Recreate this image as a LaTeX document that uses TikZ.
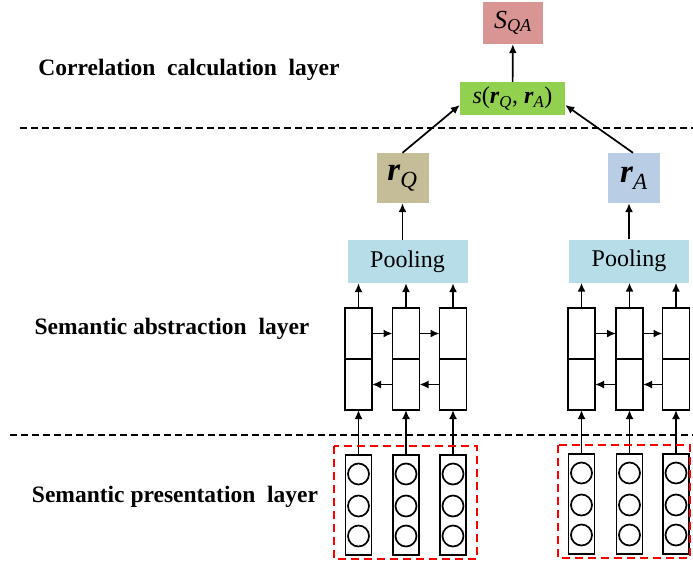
\documentclass[tikz,border=0pt]{standalone}
\usepackage{fontspec}
\setmainfont{Liberation Serif}
\usepackage{xcolor}
\usetikzlibrary{arrows.meta, positioning, calc}
\definecolor{scorered}{HTML}{D99594}
\definecolor{simgreen}{HTML}{92D050}
\definecolor{qtan}{HTML}{C4BD97}
\definecolor{ablue}{HTML}{B9CDE5}
\definecolor{poolblue}{HTML}{B7DEE8}
\tikzstyle{layername} = [font=\fontsize{23.5}{27}\selectfont\bfseries, text centered]
\tikzstyle{scorebox} = [rectangle, minimum width=60pt, minimum height=42pt, text centered, fill=scorered, font=\fontsize{26}{30}\selectfont]
\tikzstyle{simbox} = [rectangle, minimum width=105pt, minimum height=33pt, inner sep=1pt, text centered, fill=simgreen, font=\fontsize{24}{28}\selectfont]
\tikzstyle{repbox} = [rectangle, minimum width=52pt, minimum height=50pt, text centered, font=\fontsize{33}{36}\selectfont]
\tikzstyle{poolbox} = [rectangle, minimum width=120pt, minimum height=43pt, text centered, fill=poolblue, font=\fontsize{24}{28}\selectfont]
\tikzstyle{lstmcell} = [rectangle, draw=black, line width=1.7pt, outer sep=0pt, minimum width=27pt, minimum height=51pt]
\tikzstyle{embbox} = [rectangle, draw=black, line width=1.7pt, minimum width=26pt, minimum height=100pt]
\tikzstyle{wordunit} = [circle, draw=black, line width=1.7pt, minimum size=21pt, inner sep=0pt]
\tikzstyle{arrow} = [line width=1.7pt,->,>={Latex[length=9pt,width=8pt]}]
\tikzstyle{layerline} = [line width=1.7pt, dash pattern=on 7pt off 4pt]
\tikzstyle{wordgroup} = [draw=red, line width=1.7pt, dash pattern=on 8pt off 5pt]

\begin{document}
\begin{tikzpicture}[x=1pt, y=-1pt]
\useasboundingbox (0,0) rectangle (693,565);

% layer names and borders
\node (corr) [layername] at (189,70) {Correlation\ \ calculation\ \ layer};
\node (abst) [layername] at (172,329) {Semantic abstraction\ \ layer};
\node (pres) [layername] at (175,497) {Semantic presentation\ \ layer};
\draw [layerline] (20,128) -- (693,128);
\draw [layerline] (10,435) -- (693,435);

% correlation part
\node (sqa) [scorebox] at (513,23) {\textit{S}\textsubscript{\textit{QA}}};
\node (sim) [simbox] at (512.5,98.5) {\textit{s}(\textbf{\textit{r}}\textsubscript{\textit{Q}}, \textbf{\textit{r}}\textsubscript{\textit{A}})};
\node (rq) [repbox, fill=qtan] at (402.5,178) {\textbf{\textit{r}}\textsubscript{\textit{Q}}};
\node (ra) [repbox, fill=ablue] at (634,178) {\textbf{\textit{r}}\textsubscript{\textit{A}}};
\node (poolq) [poolbox] at (407.5,261.5) {Pooling};
\node (poola) [poolbox] at (629,261) {Pooling};

\draw [arrow] (sim) -- (sqa);
\draw [arrow] (rq.north) -- ([yshift=-6.5pt]sim.west);
\draw [arrow] ([xshift=-1pt]ra.north) -- ([yshift=-6.5pt]sim.east);
\draw [arrow] (rq.south |- poolq.north) -- (rq.south);
\draw [arrow] (poola.north) -- (poola.north |- ra.south);

% question side
\foreach \i/\x in {1/358.5, 2/406, 3/453} {
  \node (qf\i) [lstmcell, anchor=south] at (\x,359) {};
  \node (qb\i) [lstmcell, anchor=north] at (\x,359) {};
  \node (qe\i) [embbox] at (\x,505) {};
  \node (qw\i a) [wordunit] at (\x,474) {};
  \node (qw\i b) [wordunit] at (\x,506) {};
  \node (qw\i c) [wordunit] at (\x,536) {};
  \draw [arrow] (qe\i.north) -- (qb\i.south);
  \draw [arrow] (qf\i.north) -- (qf\i.north |- poolq.south);
}
\draw [arrow] (qf1) -- (qf2);
\draw [arrow] (qf2) -- (qf3);
\draw [arrow] (qb3) -- (qb2);
\draw [arrow] (qb2) -- (qb1);
\draw [wordgroup] (334,446) rectangle (477,559);

% answer side
\foreach \i/\x in {1/581.5, 2/629.5, 3/676} {
  \node (af\i) [lstmcell, anchor=south] at (\x,359) {};
  \node (ab\i) [lstmcell, anchor=north] at (\x,359) {};
  \node (ae\i) [embbox] at (\x,504) {};
  \node (aw\i a) [wordunit] at (\x,473) {};
  \node (aw\i b) [wordunit] at (\x,505) {};
  \node (aw\i c) [wordunit] at (\x,535) {};
  \draw [arrow] (ae\i.north) -- (ab\i.south);
  \draw [arrow] (af\i.north) -- (af\i.north |- poola.south);
}
\draw [arrow] (af1) -- (af2);
\draw [arrow] (af2) -- (af3);
\draw [arrow] (ab3) -- (ab2);
\draw [arrow] (ab2) -- (ab1);
\draw [wordgroup] (558,445) rectangle (690,558);

\end{tikzpicture}
\end{document}
